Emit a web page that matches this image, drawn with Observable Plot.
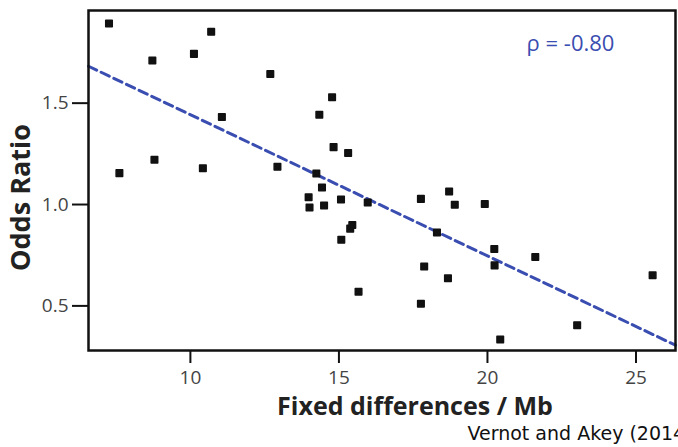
<!DOCTYPE html>
<html>
<head>
<meta charset="utf-8">
<script src="https://cdn.jsdelivr.net/npm/d3@7"></script>
<script src="https://cdn.jsdelivr.net/npm/@observablehq/plot@0.6"></script>
<style>
  html, body { margin: 0; padding: 0; background: white; overflow: hidden; }
</style>
</head>
<body>
<div id="chart"></div>
<script>
// Fixed differences per Mb (x) and odds ratio (y)
const fixedDiff = [7.26, 7.61, 8.72, 8.79, 10.12, 10.70, 10.42, 11.06, 12.69, 12.93,
  13.98, 14.01, 14.43, 14.50, 14.34, 14.24, 14.77, 14.82, 15.31, 15.07,
  15.08, 15.38, 15.45, 15.66, 15.97, 17.76, 17.87, 17.76, 18.30, 18.71,
  18.67, 18.90, 19.91, 20.23, 20.24, 20.43, 21.61, 23.02, 25.56];
const oddsRatio = [1.893, 1.155, 1.710, 1.221, 1.743, 1.852, 1.179, 1.432, 1.644, 1.186,
  1.036, 0.985, 1.084, 0.995, 1.443, 1.153, 1.529, 1.283, 1.254, 1.025,
  0.826, 0.881, 0.899, 0.570, 1.010, 1.028, 0.694, 0.511, 0.862, 1.064,
  0.636, 0.999, 1.003, 0.781, 0.700, 0.334, 0.741, 0.405, 0.651];

// Fitted regression line (endpoints at the frame edges)
const fitX = [6.57, 26.33];
const fitY = [1.682, 0.306];

const xTicks = [10, 15, 20, 25];
const yTicks = [0.5, 1.0, 1.5];
const xDomain = [6.57, 26.33];
const yDomain = [0.28, 1.957];

const xLabel = "Fixed differences / Mb";
const yLabel = "Odds Ratio";
const rhoLabel = "ρ = -0.80";
const caption = "Vernot and Akey (2014)";

const points = fixedDiff.map((x, i) => ({x, y: oddsRatio[i]}));
const fit = fitX.map((x, i) => ({x, y: fitY[i]}));

const blue = "#3a4db0";

const chart = Plot.plot({
  width: 678,
  height: 447,
  marginLeft: 88,
  marginRight: 3,
  marginTop: 10,
  marginBottom: 97,
  style: {fontFamily: "'Open Sans', sans-serif", background: "white"},
  x: {domain: xDomain, ticks: xTicks},
  y: {domain: yDomain, ticks: yTicks},
  marks: [
    Plot.axisX(xTicks, {tickSize: 13, tickPadding: 7, fontSize: 19, stroke: "#111", strokeWidth: 2, fill: "#444", label: null, tickFormat: d3.format("d")}),
    Plot.axisY(yTicks, {tickSize: 16, tickPadding: 4, fontSize: 19, stroke: "#111", strokeWidth: 2, fill: "#444", label: null, tickFormat: d3.format(".1f")}),
    Plot.line(fit, {x: "x", y: "y", stroke: blue, strokeWidth: 3, strokeDasharray: "9,5"}),
    Plot.dot(points, {x: "x", y: "y", symbol: "square", r: 3.7, fill: "#111", stroke: "#111", strokeWidth: 1.5, strokeLinejoin: "round"}),
    Plot.frame({stroke: "#111", strokeWidth: 2.5}),
    Plot.text([rhoLabel], {frameAnchor: "top-right", dx: -105, dy: 25, fill: blue, fontSize: 22, textAnchor: "middle"}),
    Plot.text([xLabel], {frameAnchor: "bottom", dx: 33, dy: 64, fontSize: 25, fontWeight: "bold", fill: "#222", textAnchor: "middle"}),
    Plot.text([yLabel], {frameAnchor: "left", dx: -67, dy: 17, rotate: -90, fontSize: 27, fontWeight: "bold", fill: "#222", textAnchor: "middle"}),
    Plot.text([caption], {frameAnchor: "bottom-right", dx: -208, dy: 89, fontSize: 19, fill: "#111", textAnchor: "start", fontFamily: "'DejaVu Sans', sans-serif"})
  ]
});
document.getElementById("chart").appendChild(chart);
</script>
</body>
</html>
